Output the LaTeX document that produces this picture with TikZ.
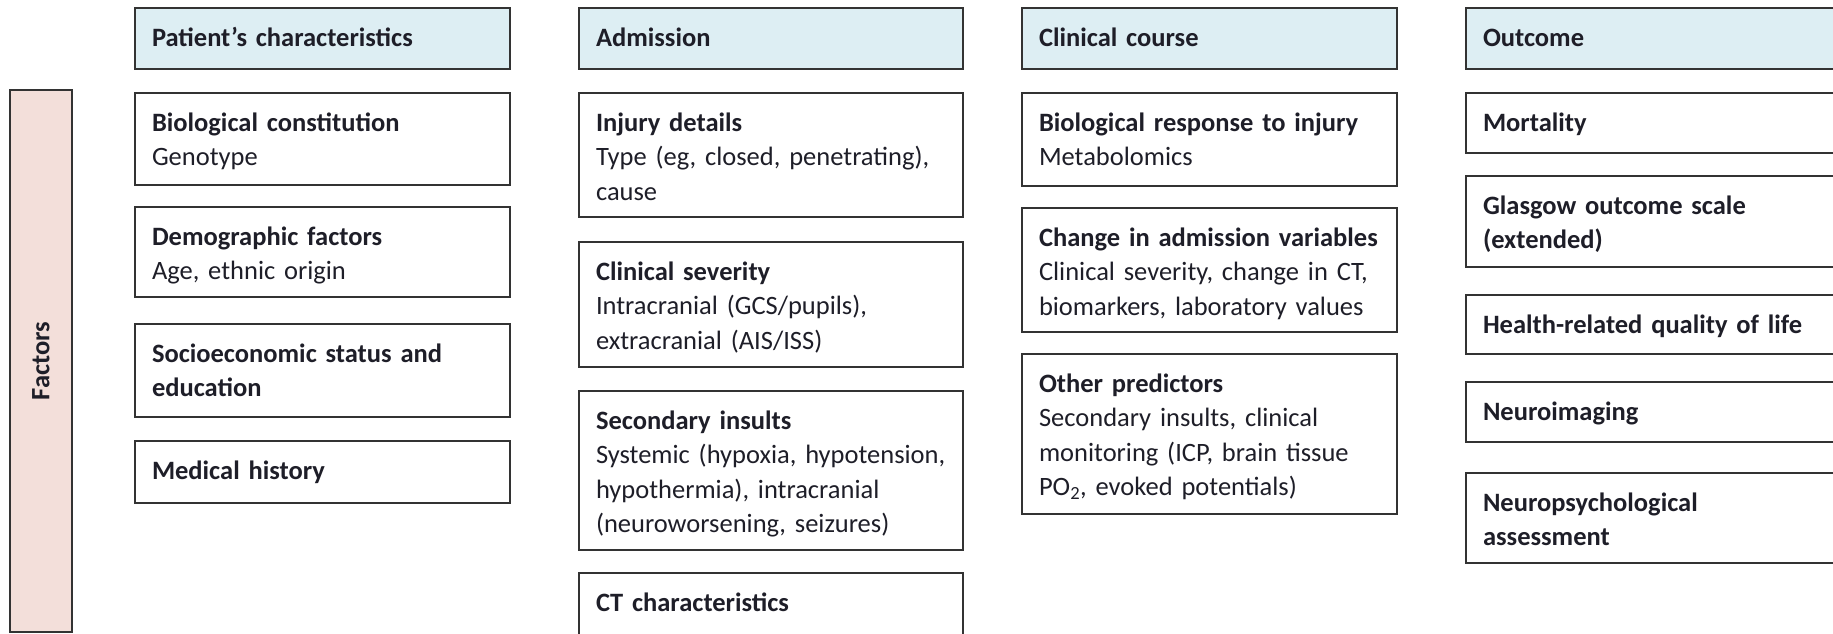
\documentclass[tikz,border=0pt]{standalone}
\usepackage{fontspec}
\setmainfont{Carlito}
\usetikzlibrary{positioning}
\definecolor{headblue}{HTML}{DDEEF3}
\definecolor{factpink}{HTML}{F3DFDA}
\definecolor{edge}{HTML}{333333}
\definecolor{ink}{HTML}{1E1E28}
\newcommand{\boxfont}{\fontsize{26.5}{34.5}\selectfont}

\begin{document}
\begin{tikzpicture}[x=1pt, y=-1pt, node distance={24pt}, line width=1.6pt,
    every node/.style = {font=\boxfont, text=ink},
    box/.style = {draw=edge, rectangle, align=left, inner xsep=17pt, inner ysep=0pt, outer sep=0pt, text height=38pt},
    head/.style = {box, fill=headblue, anchor=north west, text depth=23pt, font=\boxfont\bfseries},
    item/.style = {box, text depth=#1},
    c1/.style = {text width=341pt}, c2/.style = {text width=350pt},
    c3/.style = {text width=341pt}, c4/.style = {text width=366pt},
    fact/.style = {draw=edge, fill=factpink, rotate=90, inner sep=0pt, minimum width=542pt, minimum height=62pt, font=\boxfont\bfseries}]
    \clip (0,0) rectangle (1833,633);

    \node[fact] (fac) at (41,361) {Factors};

    \node[head, c1] (pat) at (135,8) {Patient’s characteristics};
    \node[item=54pt, c1] (bio) [below=of pat] {\textbf{Biological constitution}\\Genotype};
    \node[item=52pt, c1] (demo) [below=22pt of bio] {\textbf{Demographic factors}\\Age, ethnic origin};
    \node[item=55pt, c1] (ses) [below=27pt of demo] {\textbf{Socioeconomic status and}\\\textbf{education}};
    \node[item=24pt, c1] (hist) [below=of ses] {\textbf{Medical history}};

    \node[head, c2] (adm) at (579,8) {Admission};
    \node[item=86pt, c2] (inj) [below=of adm] {\textbf{Injury details}\\Type (eg, closed, penetrating),\\cause};
    \node[item=87pt, c2] (sev) [below=25pt of inj] {\textbf{Clinical severity}\\Intracranial (GCS/pupils),\\extracranial (AIS/ISS)};
    \node[item=121pt, c2] (ins) [below=of sev] {\textbf{Secondary insults}\\\mbox{Systemic (hypoxia, hypotension,}\\hypothermia), intracranial\\(neuroworsening, seizures)};
    \node[item=30pt, c2] (ct) [below=23pt of ins] {\textbf{CT characteristics}};

    \node[head, c3] (cou) at (1022,8) {Clinical course};
    \node[item=55pt, c3] (resp) [below=of cou] {\textbf{Biological response to injury}\\Metabolomics};
    \node[item=86pt, c3] (chg) [below=22pt of resp] {\textbf{Change in admission variables}\\Clinical severity, change in CT,\\biomarkers, laboratory values};
    \node[item=122pt, c3] (pred) [below=22pt of chg] {\textbf{Other predictors}\\Secondary insults, clinical\\monitoring (ICP, brain tissue\\PO\textsubscript{2}, evoked potentials)};

    \node[head, c4] (out) at (1466,8) {Outcome};
    \node[item=22pt, c4] (mort) [below=of out] {\textbf{Mortality}};
    \node[item=53pt, c4] (gos) [below=23pt of mort] {\textbf{Glasgow outcome scale}\\\textbf{(extended)}};
    \node[item=21pt, c4] (qol) [below=28pt of gos] {\textbf{Health-related quality of life}};
    \node[item=22pt, c4] (img) [below=28pt of qol] {\textbf{Neuroimaging}};
    \node[item=52pt, c4] (npsy) [below=31pt of img] {\textbf{Neuropsychological}\\\textbf{assessment}};
\end{tikzpicture}
\end{document}
